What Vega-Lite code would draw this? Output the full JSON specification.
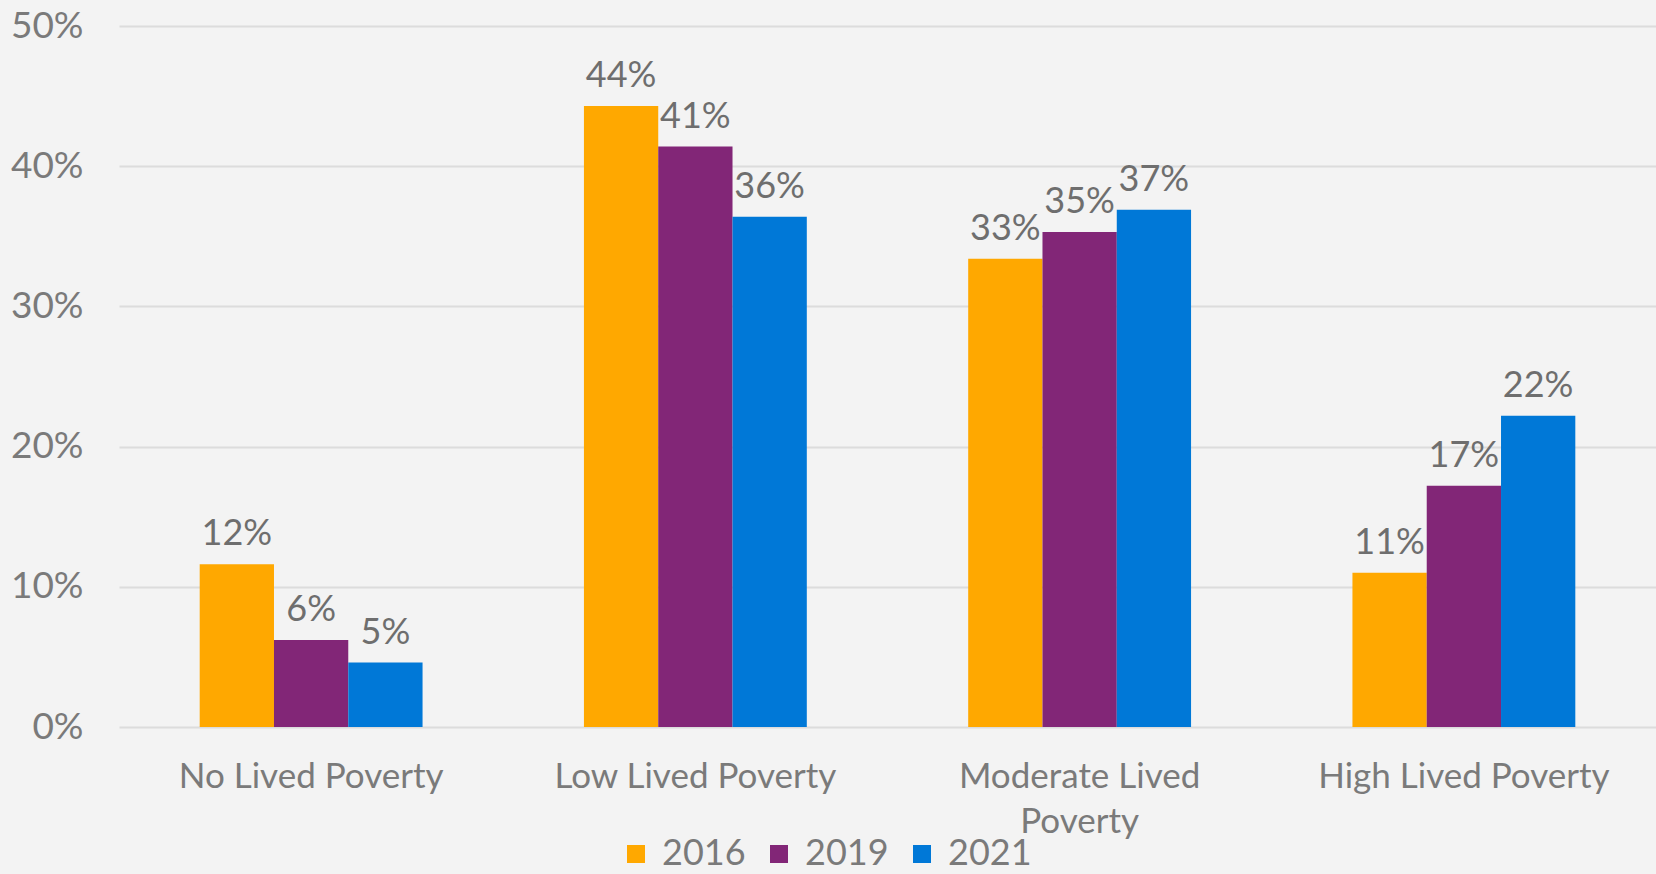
{
  "$schema": "https://vega.github.io/schema/vega-lite/v6.json",
  "width": 1537,
  "height": 701,
  "autosize": {"type": "none"},
  "padding": {"left": 119, "top": 26, "right": 0, "bottom": 147},
  "background": "#f3f3f3",
  "config": {
    "view": {"stroke": null},
    "font": "Lato",
    "axis": {"labelColor": "#7a7a7a", "labelFont": "Lato", "grid": false, "domain": false, "ticks": false}
  },
  "data": {
    "values": [
      {"category": "No Lived Poverty", "year": "2016", "value": 0.116},
      {"category": "No Lived Poverty", "year": "2019", "value": 0.062},
      {"category": "No Lived Poverty", "year": "2021", "value": 0.046},
      {"category": "Low Lived Poverty", "year": "2016", "value": 0.443},
      {"category": "Low Lived Poverty", "year": "2019", "value": 0.414},
      {"category": "Low Lived Poverty", "year": "2021", "value": 0.364},
      {"category": "Moderate Lived Poverty", "year": "2016", "value": 0.334},
      {"category": "Moderate Lived Poverty", "year": "2019", "value": 0.353},
      {"category": "Moderate Lived Poverty", "year": "2021", "value": 0.369},
      {"category": "High Lived Poverty", "year": "2016", "value": 0.11},
      {"category": "High Lived Poverty", "year": "2019", "value": 0.172},
      {"category": "High Lived Poverty", "year": "2021", "value": 0.222}
    ]
  },
  "encoding": {
    "x": {
      "field": "category", "type": "nominal", "sort": null,
      "scale": {"paddingInner": 0.42, "paddingOuter": 0.21},
      "axis": {
        "title": null, "labelAngle": 0, "labelFontSize": 35, "labelPadding": 32,
        "labelLimit": 400, "labelLineHeight": 45,
        "labelExpr": "datum.label == 'Moderate Lived Poverty' ? ['Moderate Lived', 'Poverty'] : datum.label"
      }
    },
    "xOffset": {"field": "year", "type": "nominal"},
    "y": {
      "field": "value", "type": "quantitative",
      "scale": {"domain": [0, 0.5]},
      "axis": {
        "title": null, "format": ".0%", "values": [0, 0.1, 0.2, 0.3, 0.4, 0.5],
        "grid": true, "gridColor": "#dcdcdc", "gridWidth": 2,
        "labelFontSize": 37, "labelPadding": 36
      }
    }
  },
  "layer": [
    {
      "mark": {"type": "bar"},
      "encoding": {
        "color": {
          "field": "year", "type": "nominal",
          "scale": {"domain": ["2016", "2019", "2021"], "range": ["#FFA800", "#822677", "#0078D7"]},
          "legend": {
            "title": null, "orient": "none", "direction": "horizontal",
            "legendX": 499, "legendY": 810,
            "symbolType": "square", "symbolSize": 324, "symbolStrokeWidth": 0,
            "labelFontSize": 36, "labelColor": "#7a7a7a", "labelFont": "Lato",
            "columnPadding": 15, "labelOffset": 8
          }
        }
      }
    },
    {
      "mark": {"type": "text", "baseline": "alphabetic", "dy": -19, "fontSize": 36, "color": "#6e6e6e", "font": "Lato"},
      "encoding": {
        "text": {"field": "value", "type": "quantitative", "format": ".0%"}
      }
    }
  ]
}
